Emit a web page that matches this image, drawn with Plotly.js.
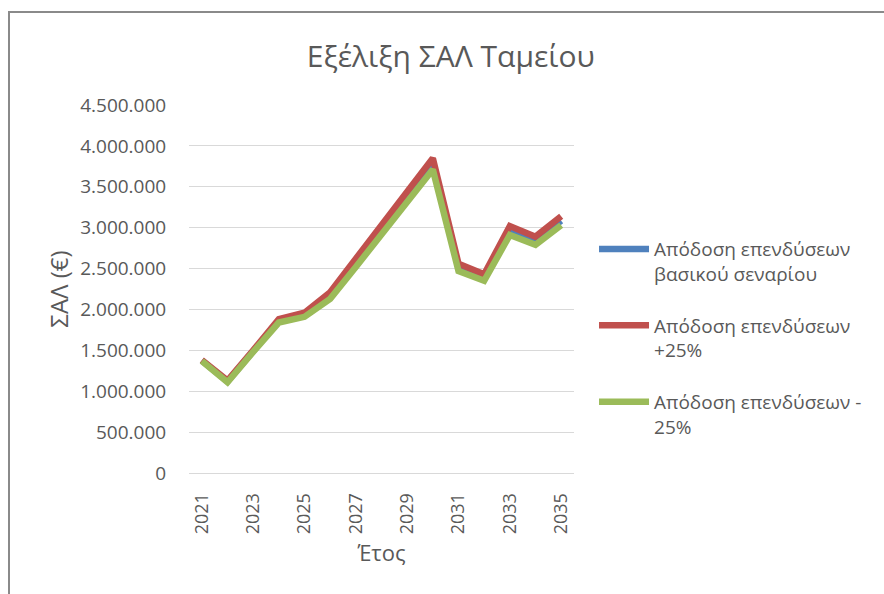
<!DOCTYPE html>
<html>
<head>
<meta charset="utf-8">
<script src="https://cdn.plot.ly/plotly-3.0.1.min.js"></script>
<style>
  html, body { margin: 0; padding: 0; background: #fff; }
  #wrap { position: relative; width: 884px; height: 594px; overflow: hidden; }
  #chart { position: absolute; left: 0; top: 0; width: 884px; height: 594px; }
  #frame { position: absolute; left: 8px; top: 11px; width: 900px; height: 600px;
           border-left: 2px solid #8a8a8a; border-top: 2px solid #8a8a8a; pointer-events: none; }
</style>
</head>
<body>
<div id="wrap">
  <div id="chart"></div>
  <div id="frame"></div>
</div>
<script>
const years = [2021, 2022, 2023, 2024, 2025, 2026, 2027, 2028, 2029, 2030, 2031, 2032, 2033, 2034, 2035];
const xTicks = [2021, 2023, 2025, 2027, 2029, 2031, 2033, 2035];
const baseScenario = [1375000, 1120000, 1490000, 1860000, 1935000, 2170000, 2570000, 2975000, 3380000, 3780000, 2515000, 2390000, 2965000, 2840000, 3085000];
const plus25 = [1380000, 1130000, 1500000, 1880000, 1960000, 2210000, 2620000, 3030000, 3440000, 3850000, 2560000, 2430000, 3020000, 2890000, 3140000];
const minus25 = [1370000, 1110000, 1480000, 1840000, 1910000, 2130000, 2520000, 2920000, 3320000, 3710000, 2470000, 2350000, 2910000, 2790000, 3030000];
const names = ["Απόδοση επενδύσεων<br>βασικού σεναρίου", "Απόδοση επενδύσεων<br>+25%", "Απόδοση επενδύσεων -<br>25%"];
const colors = ["#4F81BD", "#C0504D", "#9BBB59"];
const series = [baseScenario, plus25, minus25];

const font = "'Open Sans', 'Noto Sans', sans-serif";
const txt = "#595959";

const traces = series.map((ys, i) => ({
  x: years, y: ys, type: "scatter", mode: "lines", name: names[i],
  legendgroup: "g" + i,
  line: { color: colors[i], width: 6.5 }
}));

const layout = {
  width: 884, height: 594,
  margin: { l: 189, r: 310, t: 105, b: 121, pad: 0 },
  separators: ",.",
  paper_bgcolor: "#fff", plot_bgcolor: "#fff",
  title: { text: "Εξέλιξη ΣΑΛ Ταμείου", font: { family: font, size: 30, color: txt },
           x: 0.51, xref: "container", xanchor: "center", y: 0.905, yanchor: "middle" },
  font: { family: font, color: txt },
  xaxis: {
    range: [2020.5, 2035.5], tickvals: xTicks, ticktext: xTicks.map(String),
    tickangle: -90, tickfont: { size: 18, color: txt, family: font },
    showgrid: false, zeroline: false, showline: false,
    ticks: "outside", ticklen: 12, tickcolor: "rgba(0,0,0,0)",
    title: { text: "Έτος", font: { size: 22, color: txt, family: font }, standoff: 12 }
  },
  yaxis: {
    range: [0, 4500000], dtick: 500000, tickformat: ",d",
    tickfont: { size: 19, color: txt, family: font },
    showgrid: true, gridcolor: "#d9d9d9", gridwidth: 1,
    zeroline: true, zerolinecolor: "#d9d9d9", zerolinewidth: 1, showline: false,
    ticks: "outside", ticklen: 18, tickcolor: "rgba(0,0,0,0)",
    title: { text: "ΣΑΛ (€)", font: { size: 24, color: txt, family: font }, standoff: 4 }
  },
  showlegend: true,
  legend: {
    x: 1.052, xanchor: "left", y: 0.66, yanchor: "top",
    font: { size: 19, color: txt, family: font },
    valign: "top", itemwidth: 50, tracegroupgap: 24,
    bgcolor: "rgba(0,0,0,0)"
  }
};

Plotly.newPlot("chart", traces, layout, { displayModeBar: false, staticPlot: true });
</script>
</body>
</html>
